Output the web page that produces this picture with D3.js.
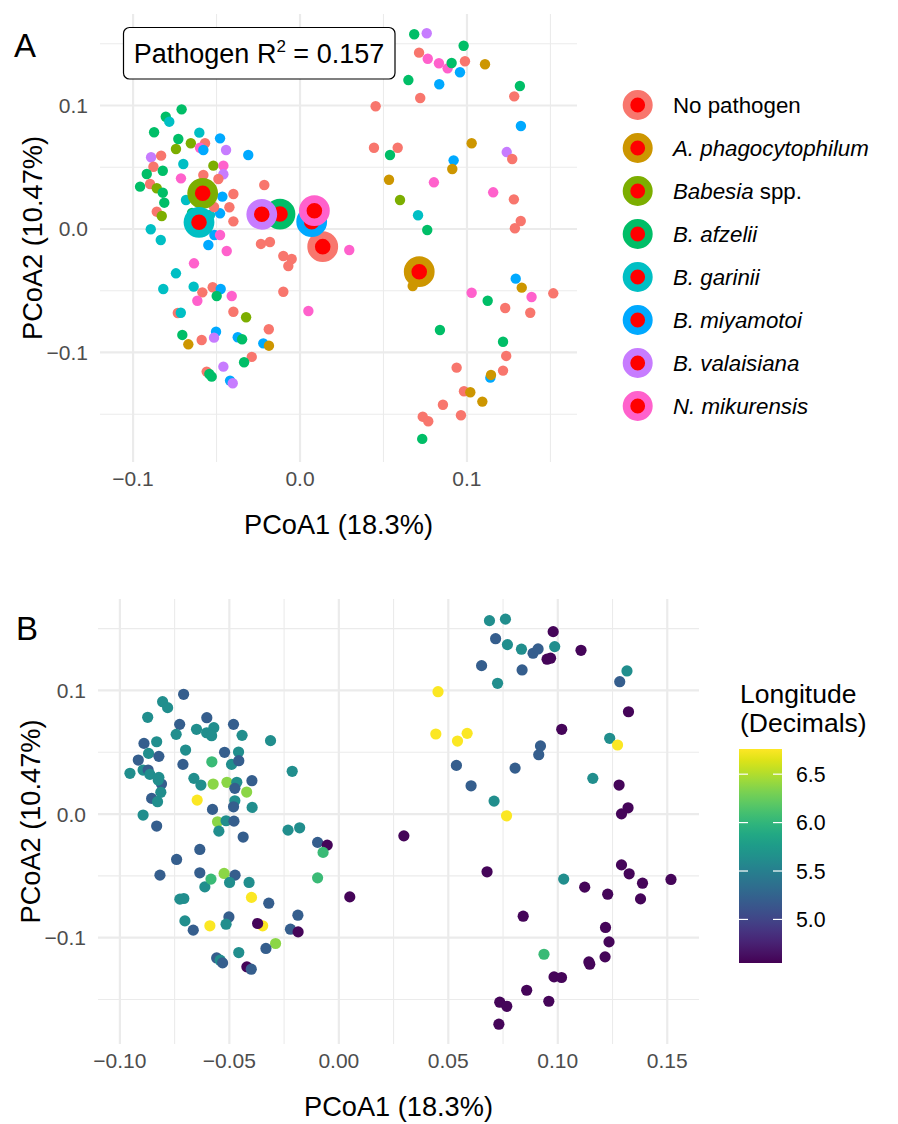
<!DOCTYPE html>
<html><head><meta charset="utf-8">
<script src="https://cdn.jsdelivr.net/npm/d3@7"></script>
<style>
body{margin:0;background:#fff}
svg{display:block}
text{font-family:"Liberation Sans",Arial,Helvetica,sans-serif}
</style>
</head><body>
<svg id="chart" width="898" height="1124"></svg>
<script>
// ---------------- DATA ----------------
const pathogenLevels = ["No pathogen","A. phagocytophilum","Babesia spp.","B. afzelii","B. garinii","B. miyamotoi","B. valaisiana","N. mikurensis"];
const pathogenColors = ["#F8766D","#CD9600","#7CAE00","#00BE67","#00BFC4","#00A9FF","#C77CFF","#FF61CC"];

// Panel A: PCoA coordinates and pathogen index (into pathogenLevels)
const aPCoA1 = [
-0.0709,-0.0804,-0.0783,-0.0874,-0.0603,-0.0729,-0.0654,-0.0743,-0.0569,-0.0599,
-0.0579,-0.0479,-0.0443,-0.0310,-0.0892,-0.0832,-0.0699,-0.0519,-0.0459,-0.0878,
-0.0918,-0.0822,-0.0579,-0.0713,-0.0459,-0.0489,-0.0214,-0.0958,-0.0898,-0.0858,
-0.0465,-0.0399,-0.0822,-0.0813,-0.0858,-0.0828,-0.0423,-0.0479,-0.0399,-0.0894,
-0.0647,-0.0629,-0.0683,-0.0539,-0.0515,-0.0834,-0.0549,-0.0513,-0.0479,-0.0439,
-0.0234,-0.0180,-0.0100,-0.0050,-0.0070,-0.0635,-0.0743,-0.0819,-0.0637,-0.0523,
-0.0475,-0.0585,-0.0499,-0.0615,-0.0409,-0.0100,0.0050,-0.0732,-0.0714,-0.0399,
-0.0323,-0.0705,-0.0669,-0.0589,-0.0503,-0.0515,-0.0373,-0.0347,-0.0187,-0.0220,
-0.0186,-0.0289,-0.0335,-0.0459,-0.0559,-0.0543,-0.0529,-0.0419,-0.0403,0.0684,
0.0759,0.0980,0.0713,0.0765,0.0832,0.0884,0.0908,0.0988,0.0958,0.1108,
0.0649,0.0834,0.0720,0.1317,0.1283,0.0453,0.1323,0.0443,0.0585,0.0539,
0.1028,0.0920,0.0912,0.1238,0.1271,0.0533,0.0802,0.1157,0.1281,0.0599,
0.0707,0.0762,0.1322,0.1287,0.0295,0.0675,0.1292,0.1328,0.1028,0.1124,
0.1387,0.1517,0.1229,0.1379,0.0838,0.1216,0.1235,0.0938,0.1216,0.1140,
0.1144,0.0982,0.1020,0.1092,0.0856,0.0964,0.0735,0.0768,0.0732];
const aPCoA2 = [
0.0969,0.0909,0.0869,0.0783,0.0780,0.0729,0.0694,0.0648,0.0694,0.0658,
0.0640,0.0734,0.0640,0.0599,0.0581,0.0594,0.0526,0.0513,0.0513,0.0504,
0.0445,0.0472,0.0437,0.0410,0.0443,0.0405,0.0356,0.0343,0.0364,0.0330,
0.0262,0.0283,0.0294,0.0213,0.0140,0.0105,0.0176,0.0127,0.0062,-0.0002,
0.0130,0.0089,0.0235,0.0113,0.0178,-0.0089,-0.0130,-0.0049,-0.0049,-0.0178,
-0.0121,-0.0105,-0.0219,-0.0243,-0.0300,-0.0278,-0.0359,-0.0486,-0.0467,-0.0472,
-0.0486,-0.0513,-0.0543,-0.0581,-0.0543,-0.0508,-0.0664,-0.0680,-0.0678,-0.0670,
-0.0715,-0.0858,-0.0934,-0.0899,-0.0832,-0.0880,-0.0877,-0.0893,-0.0812,-0.0926,
-0.0945,-0.1036,-0.1079,-0.1115,-0.1155,-0.1174,-0.1196,-0.1228,-0.1249,0.1577,
0.1585,0.1484,0.1428,0.1379,0.1342,0.1301,0.1344,0.1358,0.1269,0.1334,
0.1206,0.1172,0.1061,0.1158,0.1074,0.0994,0.0834,0.0658,0.0658,0.0599,
0.0694,0.0556,0.0486,0.0623,0.0567,0.0399,0.0378,0.0297,0.0240,0.0235,
0.0111,-0.0008,0.0065,0.0006,-0.0170,-0.0462,-0.0402,-0.0475,-0.0516,-0.0581,
-0.0551,-0.0521,-0.0640,-0.0678,-0.0818,-0.0913,-0.1028,-0.1123,-0.1147,-0.1204,
-0.1182,-0.1314,-0.1322,-0.1398,-0.1423,-0.1508,-0.1520,-0.1557,-0.1700];
const aPathogen = [
3,3,4,3,4,3,2,2,0,7,
5,5,6,5,6,0,4,2,7,0,
3,3,0,7,6,0,0,3,0,2,
5,0,3,3,0,2,0,5,0,4,
3,4,4,4,0,4,5,5,7,7,
0,0,0,0,0,7,4,4,4,0,
5,0,3,7,7,0,7,0,4,0,
2,3,1,0,5,6,5,3,0,5,
1,0,3,6,0,3,3,5,6,3,
6,3,0,7,7,7,3,0,5,1,
3,5,0,3,0,0,5,0,0,3,
1,5,1,6,0,1,7,7,0,2,
4,3,0,0,7,1,5,1,7,3,
7,0,0,0,3,3,0,0,0,5,
1,0,1,1,0,0,0,0,3];

// Panel A: group centroids (same order as pathogenLevels)
const centroidPCoA1 = [0.0136,0.0714,-0.0583,-0.0120,-0.0605,0.0070,-0.0229,0.0086];
const centroidPCoA2 = [-0.0143,-0.0346,0.0289,0.0121,0.0054,0.0059,0.0119,0.0148];

// Panel B: PCoA coordinates and longitude
const bPCoA1 = [
-0.0709,-0.0805,-0.0782,-0.0873,-0.0603,-0.0727,-0.0743,-0.0650,-0.0571,-0.0604,
-0.0581,-0.0481,-0.0442,-0.0312,-0.0890,-0.0832,-0.0869,-0.0822,-0.0700,-0.0522,
-0.0458,-0.0916,-0.0894,-0.0871,-0.0954,-0.0863,-0.0822,-0.0810,-0.0712,-0.0580,
-0.0490,-0.0457,-0.0662,-0.0630,-0.0574,-0.0511,-0.0466,-0.0397,-0.0213,-0.0421,
-0.0825,-0.0813,-0.0855,-0.0828,-0.0475,-0.0396,-0.0647,-0.0577,-0.0475,-0.0481,
-0.0894,-0.0832,-0.0554,-0.0515,-0.0479,-0.0548,-0.0437,-0.0232,-0.0179,-0.0097,
-0.0053,-0.0072,-0.0635,-0.0741,-0.0817,-0.0635,-0.0612,-0.0584,-0.0524,-0.0474,
-0.0499,-0.0410,-0.0097,-0.0726,-0.0708,-0.0399,-0.0320,-0.0703,-0.0665,-0.0589,
-0.0502,-0.0515,-0.0348,-0.0371,-0.0187,-0.0221,-0.0186,-0.0289,-0.0333,-0.0457,
-0.0558,-0.0542,-0.0531,-0.0420,-0.0400,0.0688,0.0761,0.0716,0.0770,0.0834,
0.0887,0.0910,0.0979,0.0986,0.0951,0.0967,0.0652,0.0837,0.0725,0.0453,
0.0443,0.0542,0.0586,0.1018,0.0921,0.0913,0.0537,0.0805,0.0604,0.1106,
0.1316,0.1283,0.1323,0.1237,0.1273,0.1160,0.1280,0.0709,0.0766,0.0297,
0.0677,0.0050,0.0842,0.0937,0.0983,0.1321,0.1291,0.1291,0.1326,0.1387,
0.1517,0.1027,0.1123,0.1228,0.1378,0.1218,0.1234,0.1216,0.1142,0.1146,
0.1017,0.0735,0.0767,0.0731,0.0858,0.0959];
const bPCoA2 = [
0.0969,0.0909,0.0861,0.0783,0.0780,0.0726,0.0645,0.0686,0.0699,0.0658,
0.0634,0.0726,0.0637,0.0594,0.0572,0.0585,0.0491,0.0467,0.0518,0.0500,
0.0502,0.0437,0.0356,0.0356,0.0330,0.0321,0.0297,0.0243,0.0402,0.0423,
0.0402,0.0432,0.0289,0.0235,0.0243,0.0257,0.0257,0.0270,0.0346,0.0178,
0.0275,0.0176,0.0127,0.0100,0.0208,0.0054,0.0113,0.0038,0.0108,0.0059,
-0.0008,-0.0097,-0.0062,-0.0054,-0.0057,-0.0138,-0.0186,-0.0130,-0.0111,-0.0229,
-0.0251,-0.0310,-0.0286,-0.0367,-0.0494,-0.0475,-0.0589,-0.0526,-0.0480,-0.0494,
-0.0553,-0.0553,-0.0516,-0.0688,-0.0683,-0.0674,-0.0721,-0.0864,-0.0939,-0.0904,
-0.0832,-0.0891,-0.0904,-0.0885,-0.0818,-0.0931,-0.0953,-0.1047,-0.1087,-0.1120,
-0.1164,-0.1182,-0.1204,-0.1236,-0.1255,0.1565,0.1577,0.1419,0.1371,0.1334,
0.1301,0.1336,0.1476,0.1355,0.1253,0.1261,0.1201,0.1166,0.1058,0.0990,
0.0648,0.0591,0.0653,0.0686,0.0551,0.0480,0.0394,0.0372,0.0229,0.1325,
0.1158,0.1071,0.0828,0.0613,0.0559,0.0289,0.0235,0.0105,-0.0014,-0.0176,
-0.0467,-0.0670,-0.0826,-0.1134,-0.1317,0.0051,0.0002,-0.0411,-0.0483,-0.0559,
-0.0529,-0.0526,-0.0591,-0.0648,-0.0686,-0.0917,-0.1034,-0.1155,-0.1196,-0.1215,
-0.1322,-0.1522,-0.1555,-0.1700,-0.1425,-0.1514];
const bLongitude = [
5.2,5.63,5.63,5.63,5.2,5.2,5.63,5.63,5.63,5.63,
5.63,5.2,5.63,5.63,5.2,5.63,5.63,5.2,5.63,5.2,
5.63,5.2,5.63,5.2,5.63,5.63,5.63,5.2,5.2,6.05,
5.63,5.2,5.63,5.63,6.38,6.38,5.63,5.2,5.63,6.38,
5.63,5.63,5.2,5.63,5.2,5.63,6.75,5.2,5.63,5.2,
5.63,5.2,6.38,5.63,5.2,5.63,5.2,5.63,5.63,5.2,
4.58,6.05,5.2,5.2,5.2,5.2,5.63,6.05,6.38,5.2,
5.63,5.63,6.05,5.63,5.63,6.75,5.2,5.63,5.2,6.75,
5.2,5.63,6.75,4.58,5.2,5.2,4.58,6.38,5.2,5.63,
5.2,5.63,5.2,4.58,5.2,5.63,5.63,5.2,5.63,5.63,
5.2,5.2,4.58,5.63,4.58,4.58,5.2,5.2,5.63,6.75,
6.75,6.75,6.75,4.58,5.2,5.2,5.2,5.2,5.2,4.58,
5.63,5.2,4.58,5.63,6.75,5.63,4.58,5.63,6.75,4.58,
4.58,4.58,4.58,6.05,4.58,4.58,4.58,4.58,4.58,4.58,
4.58,5.63,4.58,4.58,4.58,4.58,4.58,4.58,4.58,4.58,
4.58,4.58,4.58,4.58,4.58,4.58];

const aXTicks = [-0.1, 0.0, 0.1];
const aYTicks = [-0.1, 0.0, 0.1];
const bXTicks = [-0.10, -0.05, 0.00, 0.05, 0.10, 0.15];
const bYTicks = [-0.1, 0.0, 0.1];
const lonTicks = [5.0, 5.5, 6.0, 6.5];
const lonDomain = [4.55, 6.76];

// ---------------- DRAWING ----------------
const svg = d3.select("#chart");
const GRID = "#EBEBEB";
const TICKCOL = "#4D4D4D";
const fmtA = d3.format(".1f"), fmtB = d3.format(".2f");

function drawPanel(cfg) {
  const {x, y, xMajor, xMinor, yMajor, yMinor, fmtX, fmtY} = cfg;
  const [x0, x1] = x.range(), [y1, y0] = y.range();
  const g = svg.append("g");
  g.selectAll(".vmin").data(xMinor).join("line")
    .attr("x1", d => x(d)).attr("x2", d => x(d)).attr("y1", y0).attr("y2", y1)
    .attr("stroke", GRID).attr("stroke-width", 1.1);
  g.selectAll(".hmin").data(yMinor).join("line")
    .attr("y1", d => y(d)).attr("y2", d => y(d)).attr("x1", x0).attr("x2", x1)
    .attr("stroke", GRID).attr("stroke-width", 1.1);
  g.selectAll(".vmaj").data(xMajor).join("line")
    .attr("x1", d => x(d)).attr("x2", d => x(d)).attr("y1", y0).attr("y2", y1)
    .attr("stroke", GRID).attr("stroke-width", 2.2);
  g.selectAll(".hmaj").data(yMajor).join("line")
    .attr("y1", d => y(d)).attr("y2", d => y(d)).attr("x1", x0).attr("x2", x1)
    .attr("stroke", GRID).attr("stroke-width", 2.2);
  g.selectAll(".xt").data(xMajor).join("text")
    .attr("x", d => x(d)).attr("y", y1 + 24).attr("text-anchor", "middle")
    .attr("font-size", 21).attr("fill", TICKCOL).text(d => fmtX(d));
  g.selectAll(".yt").data(yMajor).join("text")
    .attr("x", x0 - 12).attr("y", d => y(d) + 7.5).attr("text-anchor", "end")
    .attr("font-size", 21).attr("fill", TICKCOL).text(d => fmtY(d));
  g.append("text").attr("x", (x0 + x1) / 2).attr("y", y1 + 72).attr("text-anchor", "middle")
    .attr("font-size", 27.2).attr("fill", "#000").text("PCoA1 (18.3%)");
  g.append("text").attr("transform", `translate(${x0 - 58},${(y0 + y1) / 2}) rotate(-90)`)
    .attr("text-anchor", "middle").attr("font-size", 27.2).attr("fill", "#000").text("PCoA2 (10.47%)");
  return g;
}

function minorOf(step, dom) {
  const out = [];
  for (let r = Math.ceil(dom[0] / step); r * step <= dom[1] + 1e-9; r++) {
    if (r % 2 !== 0) out.push(+(r * step).toFixed(4));
  }
  return out;
}

// ----- Panel A -----
const xA = d3.scaleLinear().domain([-0.1198, 0.1659]).range([100, 577]);
const yA = d3.scaleLinear().domain([-0.1887, 0.1741]).range([462, 14]);
const gA = drawPanel({x: xA, y: yA, xMajor: aXTicks, xMinor: minorOf(0.05, xA.domain()),
  yMajor: aYTicks, yMinor: minorOf(0.05, yA.domain()), fmtX: fmtA, fmtY: fmtA});

const aPts = aPCoA1.map((v, i) => ({x: v, y: aPCoA2[i], p: aPathogen[i]}));
gA.append("g").selectAll("circle").data(aPts).join("circle")
  .attr("cx", d => xA(d.x)).attr("cy", d => yA(d.y)).attr("r", 5.2)
  .attr("fill", d => pathogenColors[d.p]);

const cents = centroidPCoA1.map((v, i) => ({x: v, y: centroidPCoA2[i], p: i}));
gA.append("g").selectAll("circle").data(cents).join("circle")
  .attr("cx", d => xA(d.x)).attr("cy", d => yA(d.y)).attr("r", 11.6)
  .attr("fill", "#FF0000").attr("stroke", d => pathogenColors[d.p]).attr("stroke-width", 7.6);

// annotation label
const ann = svg.append("g");
ann.append("rect").attr("x", 123.5).attr("y", 27.5).attr("width", 271.5).attr("height", 51.5)
  .attr("rx", 6).attr("fill", "#fff").attr("stroke", "#000").attr("stroke-width", 1.2);
const annT = ann.append("text").attr("x", 259).attr("y", 63).attr("text-anchor", "middle")
  .attr("font-size", 27).attr("fill", "#000");
annT.append("tspan").text("Pathogen R");
annT.append("tspan").attr("font-size", 17).attr("dy", -11).text("2");
annT.append("tspan").attr("dy", 11).text(" = 0.157");

// legend A
const legA = svg.append("g");
const legY0 = 105, legStep = 43.0;
pathogenLevels.forEach((name, i) => {
  const cy = legY0 + i * legStep;
  legA.append("circle").attr("cx", 637.7).attr("cy", cy).attr("r", 11.2)
    .attr("fill", "#FF0000").attr("stroke", pathogenColors[i]).attr("stroke-width", 7.6);
  const t = legA.append("text").attr("x", 673).attr("y", cy + 7.8).attr("font-size", 22.3).attr("fill", "#000");
  if (i === 0) t.text(name);
  else if (name.endsWith(" spp.")) {
    t.append("tspan").attr("font-style", "italic").text(name.replace(" spp.", ""));
    t.append("tspan").text(" spp.");
  } else t.attr("font-style", "italic").text(name);
});

// tags
svg.append("text").attr("x", 14).attr("y", 57).attr("font-size", 33).text("A");
svg.append("text").attr("x", 16).attr("y", 640).attr("font-size", 33).text("B");

// ----- Panel B -----
const xB = d3.scaleLinear().domain([-0.11, 0.1645]).range([98, 699]);
const yB = d3.scaleLinear().domain([-0.186, 0.174]).range([1044, 599]);
const gB = drawPanel({x: xB, y: yB, xMajor: bXTicks, xMinor: minorOf(0.025, xB.domain()),
  yMajor: bYTicks, yMinor: minorOf(0.05, yB.domain()), fmtX: fmtB, fmtY: fmtA});

const color = d3.scaleSequential(d3.interpolateViridis).domain(lonDomain);
const bPts = bPCoA1.map((v, i) => ({x: v, y: bPCoA2[i], lon: bLongitude[i]}));
gB.append("g").selectAll("circle").data(bPts).join("circle")
  .attr("cx", d => xB(d.x)).attr("cy", d => yB(d.y)).attr("r", 5.6)
  .attr("fill", d => color(d.lon));

// colorbar legend
const cb = {x: 739, y: 749, w: 43, h: 214};
const lonY = d3.scaleLinear().domain(lonDomain).range([cb.y + cb.h, cb.y]);
const defs = svg.append("defs");
const grad = defs.append("linearGradient").attr("id", "vir").attr("x1", 0).attr("x2", 0).attr("y1", 1).attr("y2", 0);
d3.range(0, 1.0001, 0.05).forEach(t => grad.append("stop").attr("offset", t).attr("stop-color", d3.interpolateViridis(t)));
svg.append("rect").attr("x", cb.x).attr("y", cb.y).attr("width", cb.w).attr("height", cb.h).attr("fill", "url(#vir)");
lonTicks.forEach(v => {
  const yy = lonY(v);
  svg.append("line").attr("x1", cb.x).attr("x2", cb.x + 9).attr("y1", yy).attr("y2", yy).attr("stroke", "#fff").attr("stroke-width", 1.2);
  svg.append("line").attr("x1", cb.x + cb.w - 9).attr("x2", cb.x + cb.w).attr("y1", yy).attr("y2", yy).attr("stroke", "#fff").attr("stroke-width", 1.2);
  svg.append("text").attr("x", 796).attr("y", yy + 7.5).attr("font-size", 21.3).attr("fill", "#000").text(d3.format(".1f")(v));
});
svg.append("text").attr("x", 740).attr("y", 703).attr("font-size", 26.5).text("Longitude");
svg.append("text").attr("x", 740).attr("y", 732).attr("font-size", 26.5).text("(Decimals)");
</script>
</body></html>
